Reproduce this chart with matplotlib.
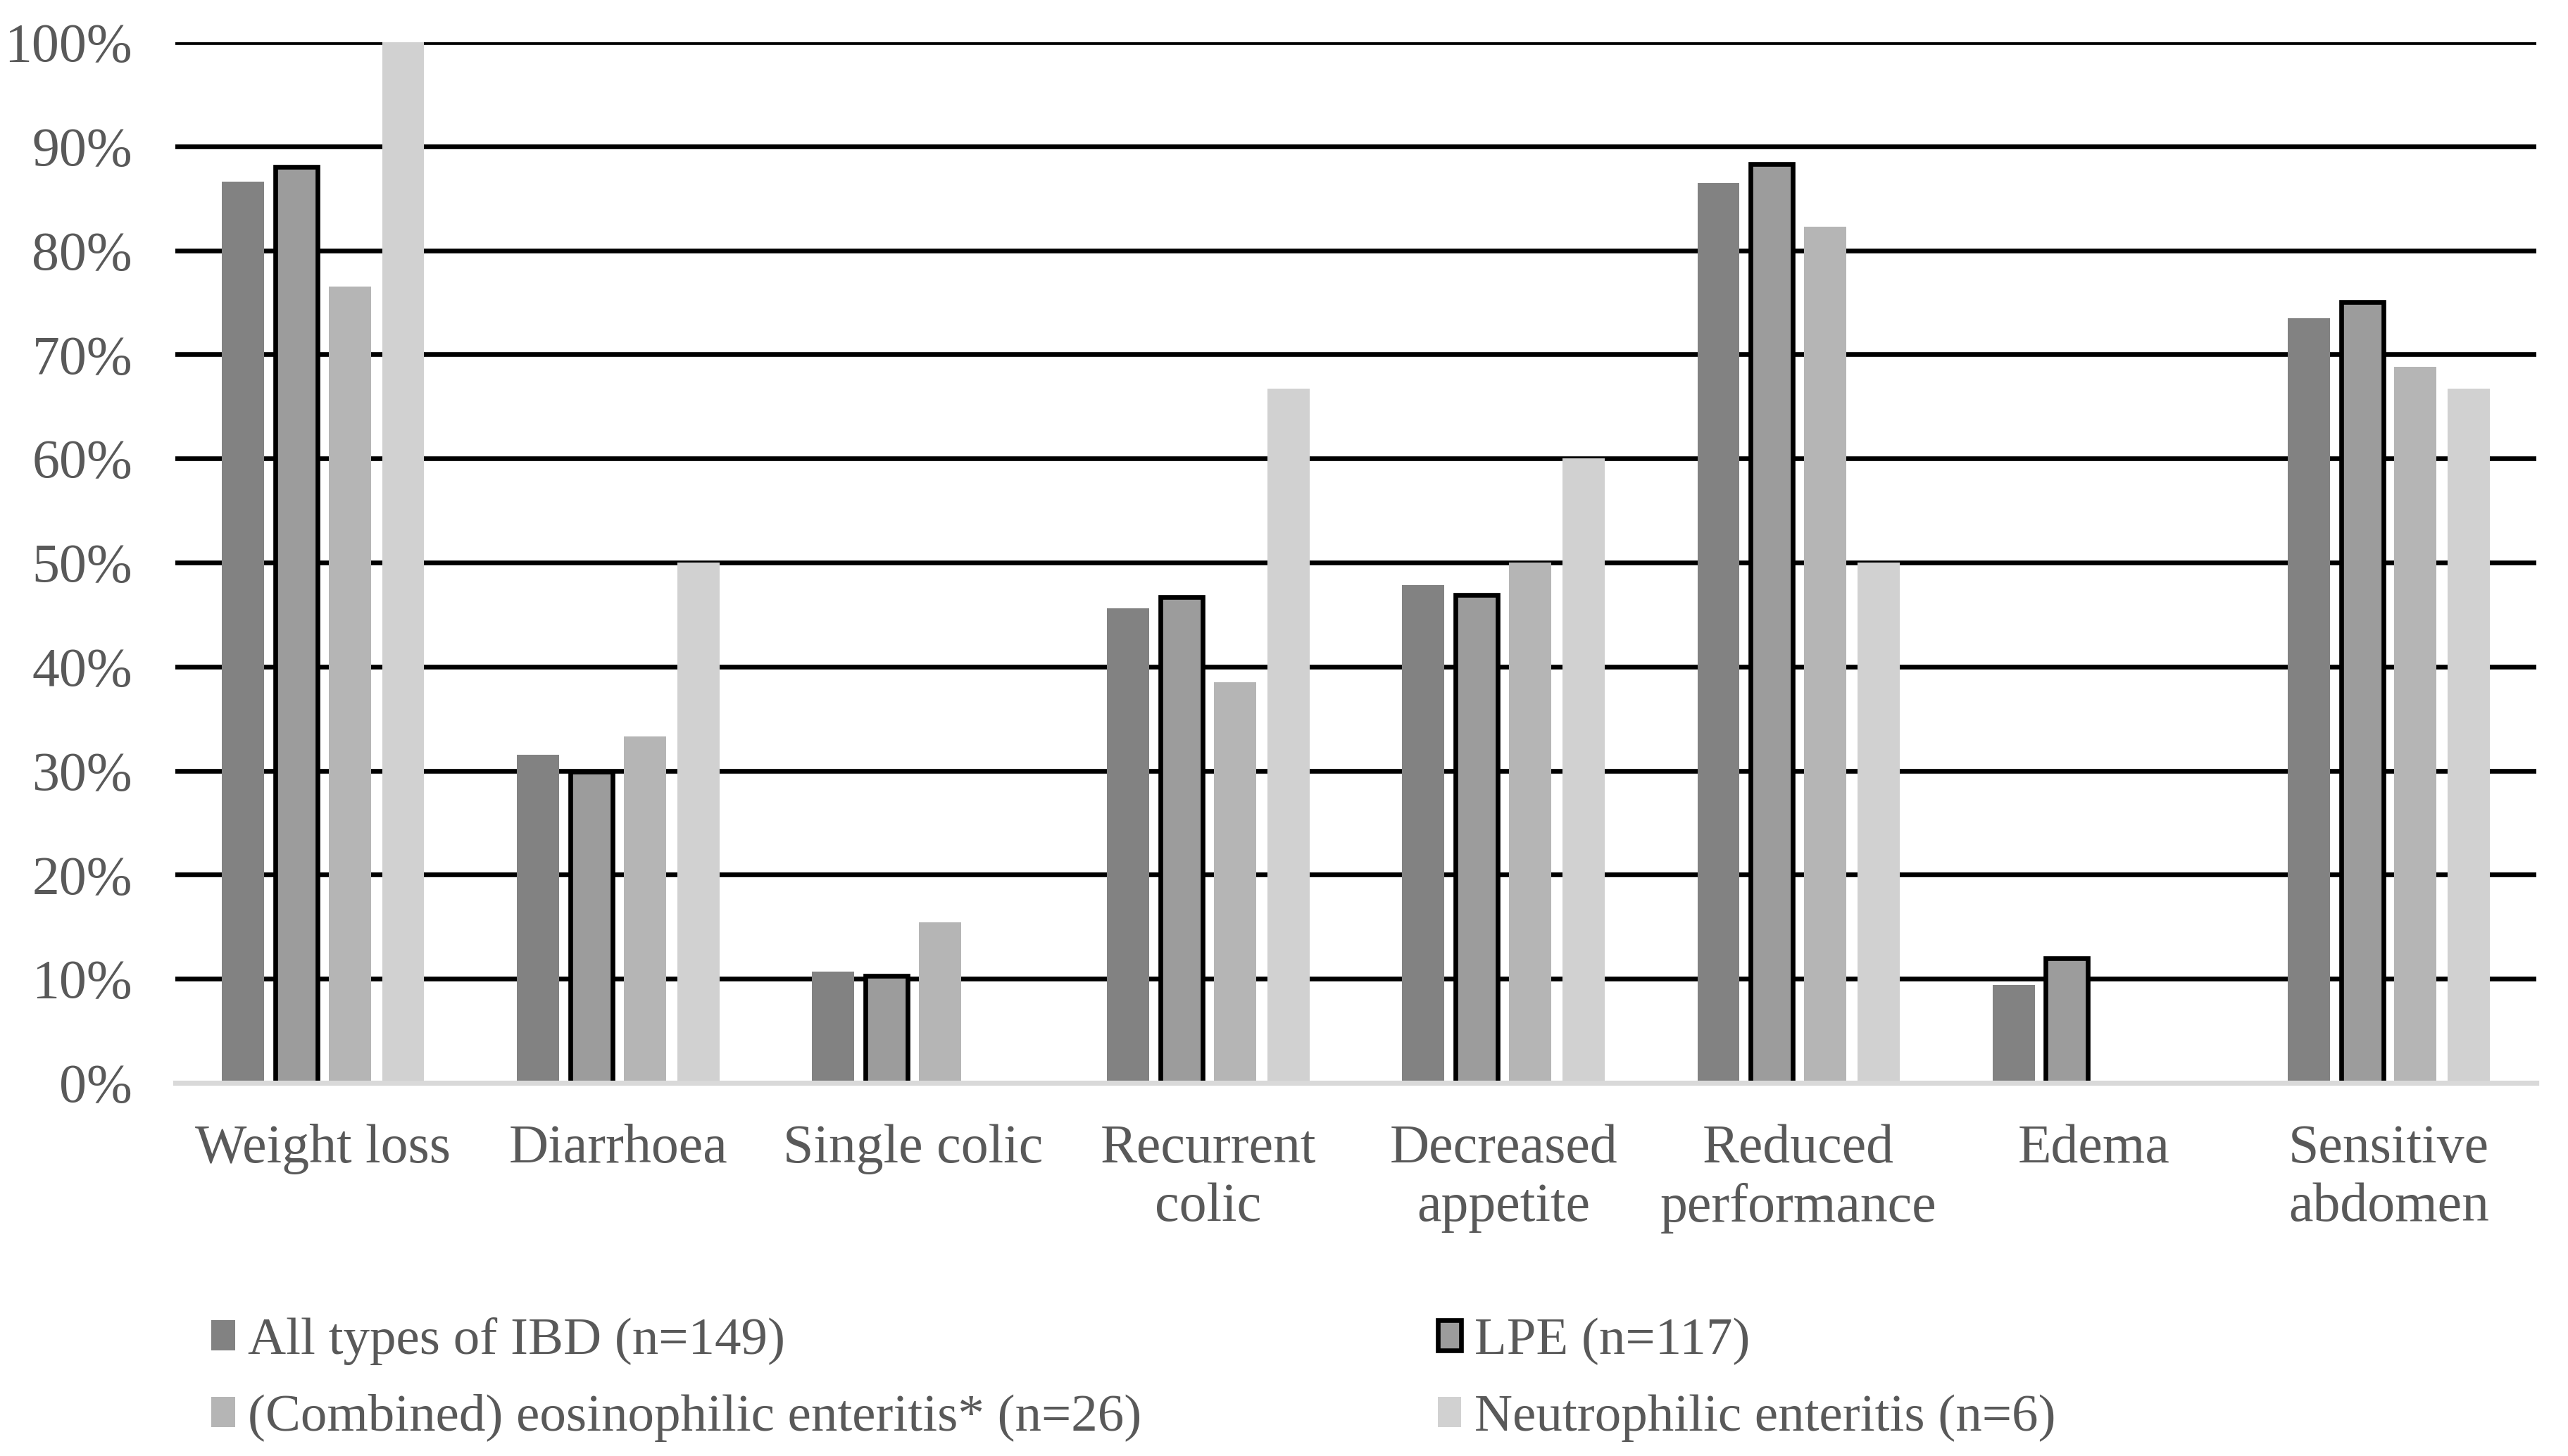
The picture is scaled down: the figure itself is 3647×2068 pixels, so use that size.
import matplotlib
matplotlib.use("Agg")
import matplotlib.pyplot as plt
import numpy as np
from matplotlib.patches import Patch
from matplotlib.ticker import PercentFormatter

plt.rcParams["font.family"] = ["Liberation Serif", "DejaVu Serif"]

categories = [
    "Weight loss",
    "Diarrhoea",
    "Single colic",
    "Recurrent\ncolic",
    "Decreased\nappetite",
    "Reduced\nperformance",
    "Edema",
    "Sensitive\nabdomen",
]

series_names = [
    "All types of IBD (n=149)",
    "LPE (n=117)",
    "(Combined) eosinophilic enteritis* (n=26)",
    "Neutrophilic enteritis (n=6)",
]

# percentages
all_ibd = [86.6, 31.5, 10.7, 45.6, 47.8, 86.5, 9.4, 73.5]
lpe = [88.0, 29.9, 10.3, 46.7, 46.9, 88.3, 12.0, 75.0]
eosinophilic = [76.5, 33.3, 15.4, 38.5, 50.0, 82.3, 0.0, 68.8]
neutrophilic = [100.0, 50.0, 0.0, 66.7, 60.0, 50.0, 0.0, 66.7]

series_values = [all_ibd, lpe, eosinophilic, neutrophilic]
bar_colors = ["#828282", "#9c9c9c", "#b5b5b5", "#d1d1d1"]
text_color = "#595959"

fig = plt.figure(figsize=(18.24, 10.34), dpi=200)
ax = fig.add_axes([0.0683, 0.2563, 0.9191, 0.7147])

x = np.arange(len(categories))
pitch = 0.181
width = 0.143
offsets = (np.arange(len(series_values)) - 1.5) * pitch

for i, (name, values) in enumerate(zip(series_names, series_values)):
    if i == 1:
        ax.bar(x + offsets[i], np.array(values) / 100, width=width,
               color=bar_colors[i], edgecolor="black", linewidth=2.4,
               label=name, zorder=2)
    else:
        ax.bar(x + offsets[i], np.array(values) / 100, width=width,
               color=bar_colors[i], linewidth=0, label=name, zorder=2)

ax.set_xlim(-0.5, len(categories) - 0.5)
ax.set_ylim(0, 1)
ax.set_yticks(np.arange(0, 1.01, 0.1))
ax.yaxis.set_major_formatter(PercentFormatter(1.0, decimals=0))
ax.set_xticks(x)
ax.set_xticklabels(categories, linespacing=1.22)

ax.set_axisbelow(True)
ax.grid(axis="y", color="black", linewidth=2.4)
for side in ["top", "right", "left"]:
    ax.spines[side].set_visible(False)
ax.spines["bottom"].set_color("#d9d9d9")
ax.spines["bottom"].set_linewidth(2.6)
ax.spines["bottom"].set_zorder(3)

ax.tick_params(axis="both", length=0, labelsize=28, colors=text_color)
ax.tick_params(axis="y", pad=22)
ax.tick_params(axis="x", pad=21)

handles = [
    Patch(facecolor=bar_colors[0], edgecolor="none", label=series_names[0]),
    Patch(facecolor=bar_colors[2], edgecolor="none", label=series_names[2]),
    Patch(facecolor=bar_colors[1], edgecolor="black", linewidth=2.4, label=series_names[1]),
    Patch(facecolor=bar_colors[3], edgecolor="none", label=series_names[3]),
]
legend = fig.legend(
    handles=handles,
    ncol=2,
    loc="lower left",
    bbox_to_anchor=(0.074, -0.005),
    frameon=False,
    fontsize=27,
    handlelength=0.45,
    handleheight=0.5,
    handletextpad=0.25,
    columnspacing=5.6,
    labelspacing=0.55,
    borderaxespad=0.0,
)
for text in legend.get_texts():
    text.set_color(text_color)

fig.savefig("out.png", dpi=200)
